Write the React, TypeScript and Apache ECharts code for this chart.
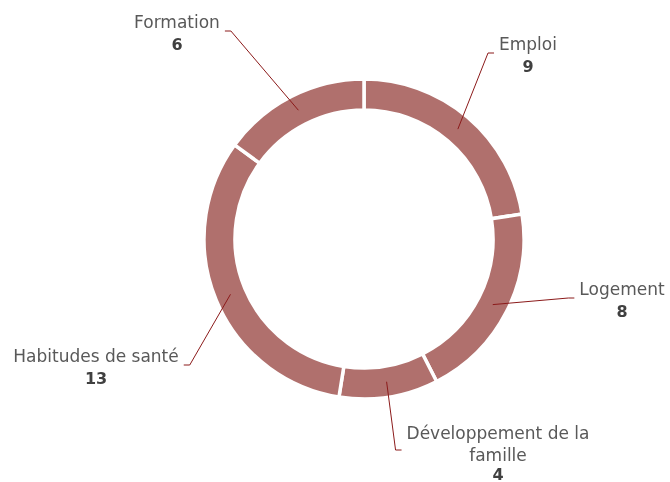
import React, { useEffect, useRef } from 'react';
import * as echarts from 'echarts';

const categories = ['Emploi', 'Logement', 'Développement de la famille', 'Habitudes de santé', 'Formation'];
const values = [9, 8, 4, 13, 6];

// label block centres (layout only)
const labelAnchors: [number, number][] = [
  [528, 55],
  [622, 300],
  [498, 452],
  [96, 367],
  [177, 33],
];

const CX = 364;
const CY = 239;
const R_OUT = 160;
const R_IN = 129;

function wrap(name: string, max = 19): string[] {
  const words = name.split(' ');
  const lines: string[] = [];
  let cur = '';
  words.forEach((w) => {
    const t = cur ? cur + ' ' + w : w;
    if (t.length > max && cur) {
      lines.push(cur);
      cur = w;
    } else cur = t;
  });
  if (cur) lines.push(cur);
  return lines;
}

export default function App() {
  const ref = useRef<HTMLDivElement>(null);
  useEffect(() => {
    const chart = echarts.init(ref.current!, null, { renderer: 'svg' });
    const total = values.reduce((a, b) => a + b, 0);
    const mids: number[] = [];
    let acc = 0;
    values.forEach((v) => {
      mids.push(((acc + v / 2) / total) * 360);
      acc += v;
    });
    const font = 'DejaVu Sans';
    const data = categories.map((c, i) => ({ name: c, value: values[i] }));
    chart.setOption({
      animation: false,
      series: [
        {
          type: 'pie',
          z: 2,
          center: [CX, CY],
          radius: [R_IN, R_OUT],
          startAngle: 90,
          clockwise: true,
          silent: true,
          data,
          itemStyle: { color: '#B0706D', borderColor: '#ffffff', borderWidth: 3.5 },
          emphasis: { disabled: true },
          label: { show: false },
          labelLine: { show: false },
        },
        {
          type: 'pie',
          z: 5,
          center: [CX, CY],
          radius: [R_IN, R_OUT],
          startAngle: 90,
          clockwise: true,
          avoidLabelOverlap: false,
          silent: true,
          data,
          itemStyle: { color: 'rgba(0,0,0,0)', borderWidth: 0 },
          emphasis: { disabled: true },
          label: {
            show: true,
            position: 'outside',
            fontFamily: font,
            formatter: (p: any) => {
              const lines = wrap(p.name);
              const vs = lines.length > 1 ? 'w' : 'v';
              return lines.map((l) => `{n|${l}}`).join('\n') + `\n{${vs}|${p.value}}`;
            },
            rich: {
              n: { fontFamily: font, fontSize: 17, color: '#595959', lineHeight: 22, align: 'center' },
              v: { fontFamily: font, fontSize: 16, fontWeight: 'bold', color: '#404040', lineHeight: 22, align: 'center' },
              w: { fontFamily: font, fontSize: 16, fontWeight: 'bold', color: '#404040', lineHeight: 16, align: 'center' },
            },
          },
          labelLine: { show: true, length: 10, length2: 10, lineStyle: { color: '#8B1A1A', width: 1 } },
          labelLayout: (p: any) => {
            const i = p.dataIndex;
            const [lx, ly] = labelAnchors[i];
            const w = p.labelRect.width;
            const a = (mids[i] * Math.PI) / 180;
            const rm = (R_IN + R_OUT) / 2;
            const sx = CX + rm * Math.sin(a);
            const sy = CY - rm * Math.cos(a);
            const right = lx > CX;
            const ex = right ? lx - w / 2 - 5 : lx + w / 2 + 5;
            const bx = right ? ex - 6 : ex + 6;
            const yl = ly - 2;
            return {
              x: lx,
              y: ly,
              align: 'center',
              verticalAlign: 'middle',
              labelLinePoints: [
                [sx, sy],
                [bx, yl],
                [ex, yl],
              ],
            };
          },
        },
      ],
    });
    return () => chart.dispose();
  }, []);
  return <div ref={ref} style={{ position: 'fixed', left: 0, top: 0, width: 670, height: 482 }} />;
}
